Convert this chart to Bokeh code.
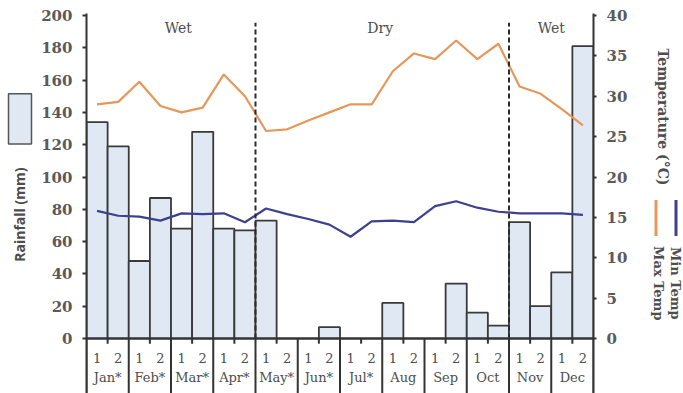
import math

from bokeh.core.properties import value
from bokeh.embed import file_html
from bokeh.layouts import row
from bokeh.models import ColumnDataSource, FixedTicker, LinearAxis, Range1d
from bokeh.plotting import figure
from bokeh.resources import INLINE

# Half-month periods: 1 = first half, 2 = second half of each month
months = ["Jan*", "Feb*", "Mar*", "Apr*", "May*", "Jun*", "Jul*",
          "Aug", "Sep", "Oct", "Nov", "Dec"]
halves = ["1", "2"]

rainfall_mm = [134, 119, 48, 87, 68, 128, 68, 67, 73, 0, 0, 7,
               0, 0, 22, 0, 0, 34, 16, 8, 72, 20, 41, 181]
max_temp_c = [29.0, 29.3, 31.8, 28.8, 28.0, 28.6, 32.7, 30.0, 25.7, 25.9, 27.0, 28.0,
              29.0, 29.0, 33.1, 35.3, 34.6, 36.9, 34.6, 36.5, 31.2, 30.3, 28.4, 26.4]
min_temp_c = [15.8, 15.2, 15.1, 14.6, 15.5, 15.4, 15.5, 14.4, 16.1, 15.4, 14.8, 14.1,
              12.6, 14.5, 14.6, 14.4, 16.4, 17.0, 16.2, 15.7, 15.5, 15.5, 15.5, 15.3]

season_names = ["Wet", "Dry", "Wet"]
season_label_x = [4.35, 13.9, 22.0]
season_breaks = [8, 20]

rain_ticks = list(range(0, 201, 20))
temp_ticks = list(range(0, 41, 5))

# ---- geometry -------------------------------------------------------------
H = 393
KEY_L, KEY_R = 38, 45                   # side strips holding titles and keys
MAIN_W = 683 - KEY_L - KEY_R
LEFT, RIGHT, TOP = 46, 45, 13           # borders of the main chart
PX_PER_MM = 1.615                       # vertical scale of the rainfall axis
zero_px = 338                           # pixel row of the zero line
y_top = 200 + (zero_px - TOP - 200 * PX_PER_MM) / PX_PER_MM
y_bot = -(H - zero_px) / PX_PER_MM

n = len(rainfall_mm)
centers = [i + 0.5 for i in range(n)]

INK = "#333333"
LABEL_INK = "#4d4d4d"
BAR_FILL = "#dfe8f3"
ORANGE = "#e6975a"
NAVY = "#3c408e"
SERIF = "DejaVu Serif"

p = figure(width=MAIN_W, height=H, output_backend="svg", toolbar_location=None,
           x_range=Range1d(0, n), y_range=Range1d(y_bot, y_top),
           x_axis_location=None, y_axis_location=None,
           min_border_left=LEFT, min_border_right=RIGHT,
           min_border_top=TOP, min_border_bottom=0,
           background_fill_color="white", border_fill_color="white",
           outline_line_color=None)
p.xgrid.visible = False
p.ygrid.visible = False

p.extra_y_ranges = {"temp": Range1d(y_bot / 5, y_top / 5)}


def style_axis(ax, ticks):
    ax.ticker = FixedTicker(ticks=ticks, minor_ticks=[])
    ax.axis_line_color = INK
    ax.axis_line_width = 2
    ax.major_tick_line_color = INK
    ax.major_tick_line_width = 2
    ax.major_tick_in = 0
    ax.major_tick_out = 4
    ax.minor_tick_line_color = None
    ax.major_label_standoff = 10
    ax.major_label_text_font = SERIF
    ax.major_label_text_font_size = "15px"
    ax.major_label_text_font_style = "bold"
    ax.major_label_text_color = "#5a5a5a"


rain_axis = LinearAxis()
style_axis(rain_axis, rain_ticks)
p.add_layout(rain_axis, "left")

temp_axis = LinearAxis(y_range_name="temp")
style_axis(temp_axis, temp_ticks)
temp_axis.major_tick_out = 3
p.add_layout(temp_axis, "right")

# ---- rainfall bars --------------------------------------------------------
bars = ColumnDataSource(dict(x=centers, top=rainfall_mm))
p.vbar(x="x", top="top", bottom=0, width=1.0, source=bars,
       fill_color=BAR_FILL, line_color="#3a3a3a", line_width=1.8)

# ---- temperature lines ----------------------------------------------------
temps = ColumnDataSource(dict(x=centers, tmax=max_temp_c, tmin=min_temp_c))
p.line("x", "tmax", source=temps, y_range_name="temp",
       line_color=ORANGE, line_width=2.2)
p.line("x", "tmin", source=temps, y_range_name="temp",
       line_color=NAVY, line_width=2.2)

# ---- season separators and names -----------------------------------------
p.segment(x0=season_breaks, x1=season_breaks, y0=[0] * 2, y1=[195.5] * 2,
          line_color="#2a2a2a", line_width=2, line_dash="5 3")
p.text(x=season_label_x, y=[192] * 3, text=season_names,
       text_font=value(SERIF), text_font_size="14px",
       text_color=LABEL_INK, text_align="center", text_baseline="middle")

# ---- hand-built category axis below the zero line -------------------------
p.segment(x0=[0], x1=[n], y0=[0], y1=[0], line_color=INK, line_width=2)
month_edges = list(range(0, n + 1, 2))
half_edges = list(range(1, n, 2))
p.segment(x0=month_edges, x1=month_edges, y0=[0] * len(month_edges),
          y1=[y_bot] * len(month_edges), line_color=INK, line_width=2)
p.segment(x0=half_edges, x1=half_edges, y0=[0] * len(half_edges),
          y1=[-3.2] * len(half_edges), line_color=INK, line_width=2)

p.text(x=centers, y=[-12.1] * n, text=halves * len(months),
       text_font=value(SERIF), text_font_size="13px", text_color=LABEL_INK,
       text_align="center", text_baseline="middle")
p.text(x=[2 * i + 1 for i in range(len(months))], y=[-24.2] * len(months),
       text=months, text_font=value(SERIF), text_font_size="13px",
       text_color=LABEL_INK, text_align="center", text_baseline="middle")


# ---- side strips: axis titles and series keys (pixel coordinates) --------
def strip(width):
    s = figure(width=width, height=H, output_backend="svg",
               toolbar_location=None, x_range=Range1d(0, width),
               y_range=Range1d(H, 0), x_axis_location=None,
               y_axis_location=None, min_border=0,
               background_fill_color="white", border_fill_color="white",
               outline_line_color=None)
    s.xgrid.visible = False
    s.ygrid.visible = False
    return s


def title(s, x, y, text, angle, font, size="14px"):
    s.text(x=[x], y=[y], text=[text], angle=angle, text_font=value(font),
           text_font_style="bold", text_font_size=size, text_color=LABEL_INK,
           text_align="center", text_baseline="middle")


left_key = strip(KEY_L)
left_key.quad(left=[8], right=[31], top=[83], bottom=[135],
              fill_color=BAR_FILL, line_color="#555555", line_width=1.5)
title(left_key, 19, 208, "Rainfall (mm)", math.pi / 2, "Open Sans")

right_key = strip(KEY_R)
title(right_key, 24, 107, "Temperature (°C)", -math.pi / 2, SERIF)
right_key.quad(left=[16, 36], right=[19, 39], top=[193, 193],
               bottom=[230, 230], fill_color=[ORANGE, NAVY], line_color=None)
title(right_key, 20, 279, "Max Temp", -math.pi / 2, SERIF, "13px")
title(right_key, 37, 279, "Min Temp", -math.pi / 2, SERIF, "13px")

layout = row(left_key, p, right_key, spacing=0)
open("out.html", "w").write(file_html(layout, INLINE))
